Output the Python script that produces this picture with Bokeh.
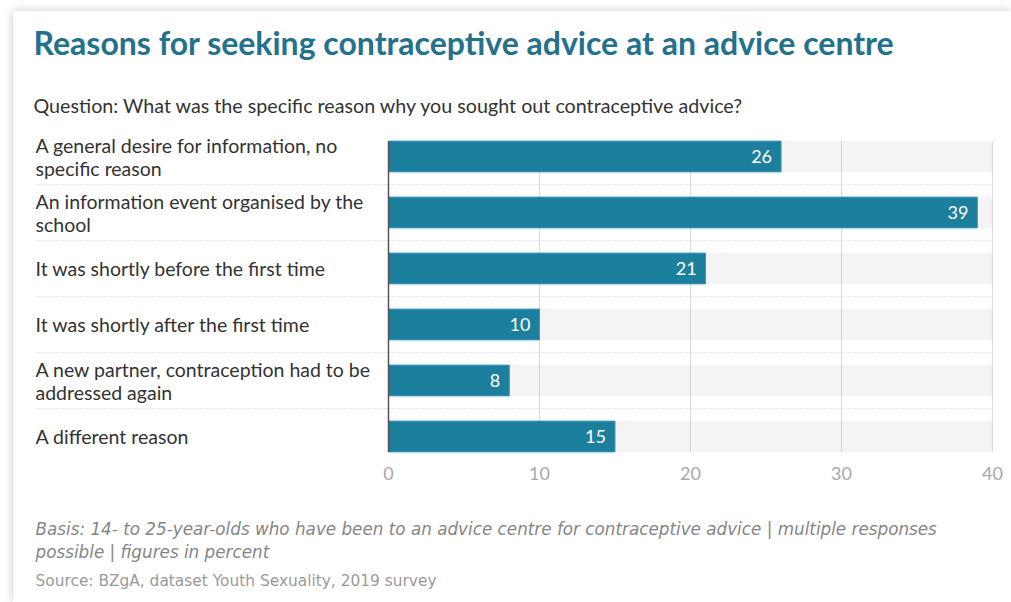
from bokeh.plotting import figure
from bokeh.models import ColumnDataSource, FactorRange, Range1d, Title, FixedTicker
from bokeh.transform import dodge
from bokeh.core.properties import value
from bokeh.embed import file_html
from bokeh.resources import INLINE

# ---- data ----
categories = [
    "A general desire for information, no\nspecific reason",
    "An information event organised by the\nschool",
    "It was shortly before the first time",
    "It was shortly after the first time",
    "A new partner, contraception had to be\naddressed again",
    "A different reason",
]
percent = [26, 39, 21, 10, 8, 15]
x_ticks = [0, 10, 20, 30, 40]

title_text = "Reasons for seeking contraceptive advice at an advice centre"
question_text = "Question: What was the specific reason why you sought out contraceptive advice?"
note_lines = [
    "Basis: 14- to 25-year-olds who have been to an advice centre for contraceptive advice | multiple responses",
    "possible | figures in percent",
]
source_text = "Source: BZgA, dataset Youth Sexuality, 2019 survey"

# ---- style ----
FONT = "Lato"
NOTE_FONT = "DejaVu Sans"
BLUE = "#1c7f9e"
TITLE_BLUE = "#23718c"
BAR_H = 0.55
XMIN = -23.38
XMAX = 40.07
XFULL = x_ticks[-1]

src = ColumnDataSource(dict(cat=categories, val=percent, full=[XFULL] * len(categories),
                            lab=[str(v) for v in percent]))

p = figure(width=998, height=591, output_backend="svg", toolbar_location=None,
           y_range=FactorRange(factors=list(reversed(categories))),
           x_range=Range1d(XMIN, XMAX),
           min_border_left=22, min_border_right=18, min_border_top=117, min_border_bottom=138)
p.margin = (11, 0, 0, 13)
p.styles = {"box-shadow": "0 0 9px rgba(0,0,0,0.22)"}
p.outline_line_color = None
p.background_fill_color = "white"
p.border_fill_color = "white"
p.yaxis.visible = False
p.ygrid.grid_line_color = None
p.xgrid.grid_line_color = None

# gridlines (between bar extents)
grid_src = ColumnDataSource(dict(x=x_ticks[1:], top=[categories[0]] * (len(x_ticks) - 1),
                                 bot=[categories[-1]] * (len(x_ticks) - 1)))
p.segment(x0="x", x1="x", y0=dodge("bot", -BAR_H / 2, range=p.y_range),
          y1=dodge("top", BAR_H / 2, range=p.y_range), source=grid_src,
          line_color="#dcdcdc", line_width=1)

# dotted separators between rows
sep_src = ColumnDataSource(dict(cat=categories[:-1]))
p.segment(x0=XMIN, x1=XFULL, y0=dodge("cat", -0.5, range=p.y_range),
          y1=dodge("cat", -0.5, range=p.y_range), source=sep_src,
          line_color="#cccccc", line_width=1, line_dash="1 2")

# background bars
p.hbar(y="cat", left=0, right="full", height=BAR_H, source=src,
       fill_color="black", fill_alpha=0.045, line_color=None)
# value bars
p.hbar(y="cat", left=0, right="val", height=BAR_H, source=src,
       fill_color=BLUE, line_color="#3f97b4", line_width=1)

# zero line
zl_src = ColumnDataSource(dict(x=[0], top=[categories[0]], bot=[categories[-1]]))
p.segment(x0="x", x1="x", y0=dodge("bot", -BAR_H / 2, range=p.y_range),
          y1=dodge("top", BAR_H / 2, range=p.y_range), source=zl_src,
          line_color="#555555", line_width=1.5)

# value labels
p.text(x="val", y="cat", text="lab", source=src, x_offset=-9,
       text_align="right", text_baseline="middle", text_color="white",
       text_font=value(FONT), text_font_size="18px")

# category labels
p.text(x=XMIN, y="cat", text="cat", source=src, text_align="left", text_baseline="middle",
       text_color="#333333", text_font=value(FONT), text_font_size="19.5px", text_line_height=1.0)

# x axis
p.xaxis.ticker = FixedTicker(ticks=x_ticks)
p.xaxis.axis_line_color = None
p.xaxis.major_tick_line_color = None
p.xaxis.minor_tick_line_color = None
p.xaxis.major_label_standoff = -4
p.xaxis.major_label_text_font = FONT
p.xaxis.major_label_text_font_size = "18px"
p.xaxis.major_label_text_color = "#a8a8a8"

# titles above (first added is closest to the frame)
p.add_layout(Title(text=question_text, align="left", offset=-2, standoff=23,
                   text_font=FONT, text_font_size="19.7px", text_font_style="normal",
                   text_color="#333333"), "above")
p.add_layout(Title(text=" ", align="left", standoff=5, text_font=FONT,
                   text_font_size="10px"), "above")
p.add_layout(Title(text=title_text, align="left", offset=-2, standoff=0,
                   text_font=FONT, text_font_size="32px", text_font_style="bold",
                   text_color=TITLE_BLUE), "above")

# notes below (first added is closest to the axis)
p.add_layout(Title(text=" ", align="left", standoff=21, text_font=FONT,
                   text_font_size="10px"), "below")
p.add_layout(Title(text="\n".join(note_lines), align="left", standoff=0,
                   text_font=NOTE_FONT, text_font_size="16.8px", text_font_style="italic",
                   text_line_height=1.17, text_color="#858585"), "below")
p.add_layout(Title(text=source_text, align="left", standoff=15,
                   text_font=NOTE_FONT, text_font_size="15.4px", text_font_style="normal",
                   text_color="#9a9a9a"), "below")

open("out.html", "w").write(file_html(p, INLINE))
